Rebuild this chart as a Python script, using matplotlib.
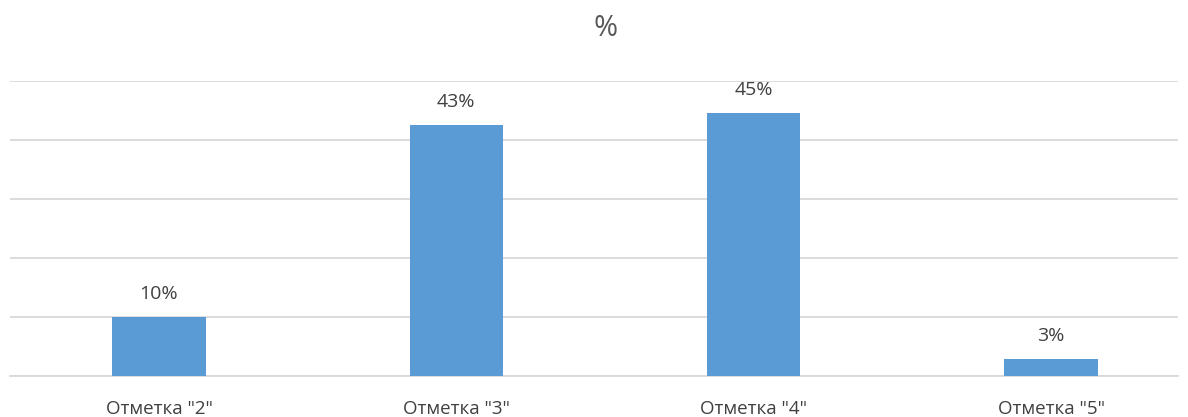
import matplotlib
matplotlib.use("Agg")
import matplotlib.pyplot as plt

categories = ['Отметка "2"', 'Отметка "3"', 'Отметка "4"', 'Отметка "5"']
values = [10.0, 42.6, 44.6, 2.9]
title = "%"

plt.rcParams['font.family'] = ['Open Sans', 'DejaVu Sans']
text_color = "#404040"

fig = plt.figure(figsize=(11.88, 4.17), dpi=100)
ax = fig.add_axes([10/1188, 41/417, 1168/1188, 295/417])

x = list(range(len(categories)))
bars = ax.bar(x, values, width=0.313, color="#5B9BD5", zorder=3)
ax.set_xlim(-0.501, 3.427)
ax.set_ylim(0, 50)
ax.set_yticks([0, 10, 20, 30, 40, 50])
ax.yaxis.grid(True, color="#D9D9D9", linewidth=1.3, zorder=0)
ax.tick_params(axis='y', left=False, labelleft=False)
ax.tick_params(axis='x', bottom=False, labelsize=13.5, colors=text_color, pad=14)
ax.set_xticks(x)
ax.set_xticklabels(categories)
for s in ["top", "right", "left"]:
    ax.spines[s].set_visible(False)
ax.spines["bottom"].set_color("#D9D9D9")
ax.spines["bottom"].set_linewidth(1.3)

for xi, v in zip(x, values):
    ax.annotate(f"{v:.0f}%", (xi, v), xytext=(0, 10), textcoords="offset points",
                ha="center", va="bottom", fontsize=14, color=text_color)

fig.text(606/1188, 1 - 28/417, title, ha="center", va="center", fontsize=21, color="#595959")

fig.savefig("out.png", dpi=100)
